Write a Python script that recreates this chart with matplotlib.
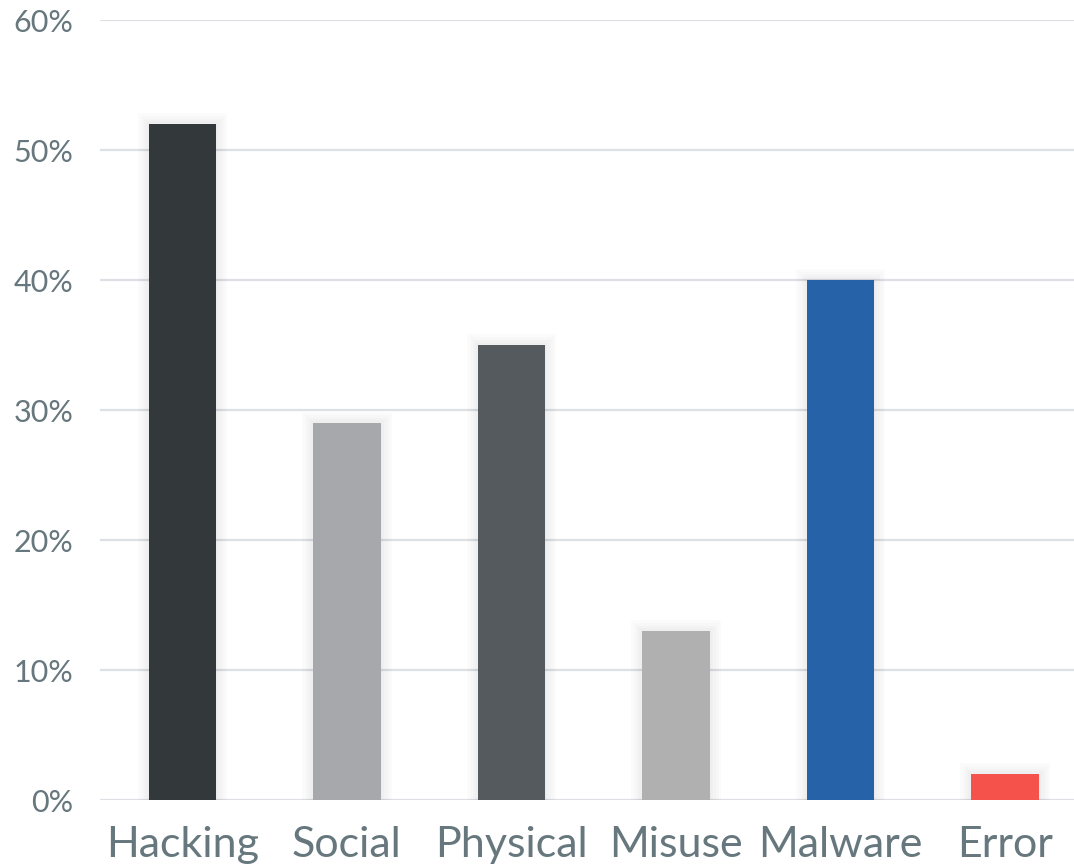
import matplotlib
matplotlib.use("Agg")
import matplotlib.pyplot as plt
import matplotlib.patheffects as pe

# --- data ---
categories = ['Hacking', 'Social', 'Physical', 'Misuse', 'Malware', 'Error']
values = [52, 29, 35, 13, 40, 2]
bar_colors = ['#33383b', '#a7a8ab', '#545a5d', '#b0b0b0', '#2662a8', '#f4524a']
yticks = [0, 10, 20, 30, 40, 50, 60]
ytick_labels = ['0%', '10%', '20%', '30%', '40%', '50%', '60%']

TEXT_COLOR = '#66777d'
GRID_COLOR = '#dde0e4'

plt.rcParams['font.family'] = ['Lato', 'DejaVu Sans']

fig = plt.figure(figsize=(10.74, 8.66), dpi=100)
ax = fig.add_axes([100 / 1074, 66 / 866, 974 / 1074, 780 / 866])

# soft shadow around each bar
shadow = [pe.withStroke(linewidth=w, foreground='#000000', alpha=0.015) for w in (16, 12, 8, 4)]
shadow.append(pe.Normal())

xs = list(range(len(categories)))
bars = ax.bar(xs, values, width=0.41, color=bar_colors, zorder=3)
for b in bars:
    b.set_path_effects(shadow)

ax.set_xlim(-0.5, 5.42)
ax.set_ylim(0, 60)
ax.set_yticks(yticks)
ax.set_yticklabels(ytick_labels)
ax.set_xticks(xs)
ax.set_xticklabels(categories)

ax.grid(axis='y', color=GRID_COLOR, linewidth=1.6, zorder=0)
ax.set_axisbelow(True)
for s in ax.spines.values():
    s.set_visible(False)

ax.tick_params(axis='y', length=0, pad=19, labelsize=22, labelcolor=TEXT_COLOR)
ax.tick_params(axis='x', length=0, pad=19, labelsize=31, labelcolor=TEXT_COLOR)

fig.savefig('out.png', dpi=100)
